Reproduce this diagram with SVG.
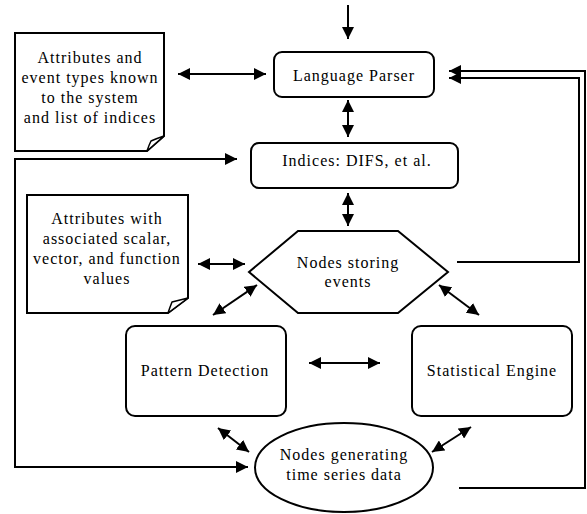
<svg xmlns="http://www.w3.org/2000/svg" width="587" height="514" viewBox="0 0 587 514">
<style>
.shape{fill:#fff;stroke:#000;stroke-width:2}
.flap{fill:#fff;stroke:#000;stroke-width:1.5;stroke-linejoin:round}
.con{fill:none;stroke:#000;stroke-width:2}
text{font-family:"Liberation Serif","Times New Roman",serif;font-size:16px;letter-spacing:1px;fill:#000;text-anchor:middle}
</style>
<defs>
<marker id="ah" viewBox="0 0 12 12" refX="12" refY="6" markerWidth="12" markerHeight="12" markerUnits="userSpaceOnUse" orient="auto-start-reverse">
<path d="M0,0 L12,6 L0,12 Z" fill="#000"/>
</marker>
</defs>
<g id="connectors">
<line class="con" x1="348" y1="5" x2="348" y2="39" marker-end="url(#ah)"/>
<line class="con" x1="178" y1="74" x2="266" y2="74" marker-start="url(#ah)" marker-end="url(#ah)"/>
<line class="con" x1="348" y1="100" x2="348" y2="137" marker-start="url(#ah)" marker-end="url(#ah)"/>
<line class="con" x1="348" y1="193" x2="348" y2="226" marker-start="url(#ah)" marker-end="url(#ah)"/>
<line class="con" x1="198" y1="264" x2="245" y2="264" marker-start="url(#ah)" marker-end="url(#ah)"/>
<line class="con" x1="257" y1="285" x2="213" y2="315" marker-start="url(#ah)" marker-end="url(#ah)"/>
<line class="con" x1="439" y1="285" x2="479" y2="315" marker-start="url(#ah)" marker-end="url(#ah)"/>
<line class="con" x1="309" y1="363" x2="380" y2="363" marker-start="url(#ah)" marker-end="url(#ah)"/>
<line class="con" x1="218" y1="428" x2="249" y2="452" marker-start="url(#ah)" marker-end="url(#ah)"/>
<line class="con" x1="471" y1="427" x2="432" y2="452" marker-start="url(#ah)" marker-end="url(#ah)"/>
<path class="con" d="M237,159 H15 V467 H248" marker-start="url(#ah)" marker-end="url(#ah)"/>
<path class="con" d="M459,488 H585 V71 H449" marker-end="url(#ah)"/>
<path class="con" d="M457,262 H579 V78 H449" marker-end="url(#ah)"/>
</g>
<g id="note-attributes-events">
<path class="shape" d="M15,33 H164 V136 L147,151 H15 Z"/>
<path class="flap" d="M147,151 Q149,145 151,141 Q158,138 164,136 Z"/>
<text x="90" y="63">Attributes and</text>
<text x="90" y="83">event types known</text>
<text x="90" y="103">to the system</text>
<text x="90" y="123">and list of indices</text>
</g>
<g id="language-parser">
<rect class="shape" x="274" y="52" width="160" height="45" rx="8"/>
<text x="354" y="81">Language Parser</text>
</g>
<g id="indices">
<rect class="shape" x="251" y="143" width="207" height="45" rx="8"/>
<text x="357" y="166">Indices: DIFS, et al.</text>
</g>
<g id="note-attributes-values">
<path class="shape" d="M27,195 H188 V298 L168,313 H27 Z"/>
<path class="flap" d="M168,313 Q170,307 172,302 Q180,300 188,298 Z"/>
<text x="107" y="224">Attributes with</text>
<text x="107" y="244">associated scalar,</text>
<text x="107" y="264">vector, and function</text>
<text x="107" y="284">values</text>
</g>
<g id="nodes-storing-events">
<polygon class="shape" points="249,272 298,231 398,231 448,272 398,313 298,313"/>
<text x="348" y="268">Nodes storing</text>
<text x="348" y="287">events</text>
</g>
<g id="pattern-detection">
<rect class="shape" x="126" y="326" width="160" height="90" rx="9"/>
<text x="205" y="376">Pattern Detection</text>
</g>
<g id="statistical-engine">
<rect class="shape" x="412" y="326" width="160" height="90" rx="9"/>
<text x="492" y="376">Statistical Engine</text>
</g>
<g id="nodes-generating">
<ellipse class="shape" cx="344" cy="467.5" rx="89" ry="44.5"/>
<text x="344" y="460">Nodes generating</text>
<text x="344" y="480">time series data</text>
</g>
</svg>
